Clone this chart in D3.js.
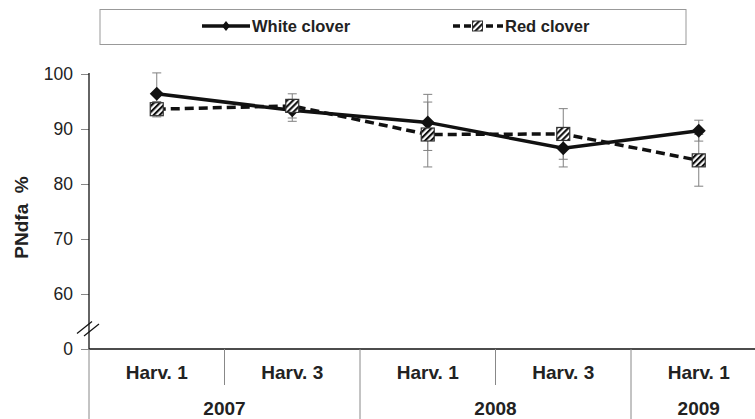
<!DOCTYPE html>
<html>
<head>
<meta charset="utf-8">
<script src="https://cdn.jsdelivr.net/npm/d3@7"></script>
<style>
  html, body { margin: 0; padding: 0; background: #fff; }
  svg { display: block; font-family: Arial, "Liberation Sans", Helvetica, sans-serif; }
</style>
</head>
<body>
<svg id="chart" width="755" height="419"></svg>
<script>
// ---- data ----
const harvests = ["Harv. 1", "Harv. 3", "Harv. 1", "Harv. 3", "Harv. 1"];
const years = ["2007", "2007", "2008", "2008", "2009"];
const whiteClover = [96.4, 93.4, 91.2, 86.5, 89.7];
const whiteErr = [3.8, 2.0, 5.1, 3.4, 1.9];
const redClover = [93.6, 94.2, 89.0, 89.1, 84.3];
const redErr = [1.4, 2.2, 5.9, 4.6, 4.7];
const yTickValues = [50, 60, 70, 80, 90, 100];
const yTickLabels = ["0", "60", "70", "80", "90", "100"];
const seriesNames = ["White clover", "Red clover"];

(function () {
// ---- layout ----
const svg = d3.select("#chart");
const mLeft = 89, mRight = 766.5, mTop = 74, mBottom = 349;

const x = d3.scaleBand().domain(d3.range(harvests.length)).range([mLeft, mRight]).padding(0);
const y = d3.scaleLinear().domain([50, 100]).range([mBottom, mTop]);
const cx = i => x(i) + x.bandwidth() / 2;

// hatch pattern
const defs = svg.append("defs");
const pat = defs.append("pattern")
  .attr("id", "hatch").attr("patternUnits", "userSpaceOnUse")
  .attr("width", 4.2).attr("height", 4.2)
  .attr("patternTransform", "rotate(45)");
pat.append("rect").attr("width", 4.2).attr("height", 4.2).attr("fill", "#fff");
pat.append("rect").attr("width", 2.1).attr("height", 4.2).attr("fill", "#111");

// y axis
const yAxis = d3.axisLeft(y).tickValues(yTickValues)
  .tickFormat((d, i) => yTickLabels[i]).tickSize(8).tickPadding(8);
const gy = svg.append("g").attr("transform", `translate(${mLeft},0)`).call(yAxis);
gy.select(".domain").remove();
gy.selectAll(".tick line").attr("stroke", "#888");
gy.selectAll(".tick text").attr("font-size", 17.5).attr("fill", "#222")
  .attr("font-family", "Arial, 'Liberation Sans', sans-serif");
svg.append("line").attr("x1", mLeft).attr("x2", mLeft).attr("y1", mTop - 1).attr("y2", mBottom)
  .attr("stroke", "#111").attr("stroke-width", 1.3);

// axis break marks
const bk = y(55);
[[-12, 0], [-5, 2.5]].forEach(([dx, dy]) => {
  svg.append("line")
    .attr("x1", mLeft + dx).attr("y1", bk + 12 + dy)
    .attr("x2", mLeft + dx + 15).attr("y2", bk + dy)
    .attr("stroke", "#111").attr("stroke-width", 1.2);
});

// y title
svg.append("text")
  .attr("transform", `translate(28,${(mTop + mBottom) / 2 + 6}) rotate(-90)`)
  .attr("text-anchor", "middle").attr("font-weight", "bold").attr("font-size", 19)
  .attr("fill", "#222").style("white-space", "pre")
  .text("PNdfa  %");

// x axis line
svg.append("line").attr("x1", mLeft).attr("x2", 755).attr("y1", mBottom).attr("y2", mBottom)
  .attr("stroke", "#111").attr("stroke-width", 1.5);

// category dividers
harvests.forEach((h, i) => {
  const newYear = i === 0 || years[i] !== years[i - 1];
  svg.append("line")
    .attr("x1", x(i)).attr("x2", x(i))
    .attr("y1", mBottom).attr("y2", newYear ? 419 : 385)
    .attr("stroke", "#888").attr("stroke-width", 1);
});

// harvest labels
svg.selectAll("text.harv").data(harvests).enter().append("text")
  .attr("class", "harv")
  .attr("x", (d, i) => cx(i)).attr("y", 379)
  .attr("text-anchor", "middle").attr("font-weight", "bold").attr("font-size", 19)
  .attr("fill", "#222").text(d => d);

// year labels
const yearGroups = d3.groups(d3.range(years.length), i => years[i]);
yearGroups.forEach(([yr, idx]) => {
  const x0 = x(idx[0]);
  const x1 = x(idx[idx.length - 1]) + x.bandwidth();
  svg.append("text")
    .attr("x", (x0 + x1) / 2).attr("y", 415)
    .attr("text-anchor", "middle").attr("font-weight", "bold").attr("font-size", 19)
    .attr("fill", "#222").text(yr);
});

// error bars
function errorBars(vals, errs) {
  const g = svg.append("g").attr("stroke", "#808080").attr("stroke-width", 1);
  vals.forEach((v, i) => {
    const xi = cx(i), yt = y(v + errs[i]), yb = y(v - errs[i]);
    g.append("line").attr("x1", xi).attr("x2", xi).attr("y1", yt).attr("y2", yb);
    g.append("line").attr("x1", xi - 4.5).attr("x2", xi + 4.5).attr("y1", yt).attr("y2", yt);
    g.append("line").attr("x1", xi - 4.5).attr("x2", xi + 4.5).attr("y1", yb).attr("y2", yb);
  });
}
errorBars(whiteClover, whiteErr);
errorBars(redClover, redErr);

// lines
const line = d3.line().x((d, i) => cx(i)).y(d => y(d));
svg.append("path").datum(whiteClover).attr("d", line)
  .attr("fill", "none").attr("stroke", "#111").attr("stroke-width", 3.5);
svg.append("path").datum(redClover).attr("d", line)
  .attr("fill", "none").attr("stroke", "#111").attr("stroke-width", 3.5)
  .attr("stroke-dasharray", "9,5");

// markers
function drawDiamond(g, px, py) {
  g.append("path").attr("d", "M0,-7L7,0L0,7L-7,0Z")
    .attr("transform", `translate(${px},${py})`).attr("fill", "#111");
}
function drawSquare(g, px, py) {
  g.append("rect").attr("x", px - 6.5).attr("y", py - 6.5).attr("width", 13).attr("height", 13)
    .attr("fill", "url(#hatch)").attr("stroke", "#333").attr("stroke-width", 1.2);
}
const gm = svg.append("g");
whiteClover.forEach((v, i) => drawDiamond(gm, cx(i), y(v)));
redClover.forEach((v, i) => drawSquare(gm, cx(i), y(v)));

// legend
const lg = svg.append("g");
lg.append("rect").attr("x", 100).attr("y", 9.5).attr("width", 586).attr("height", 35)
  .attr("fill", "#fff").attr("stroke", "#999").attr("stroke-width", 1);
lg.append("line").attr("x1", 202).attr("x2", 250).attr("y1", 26).attr("y2", 26)
  .attr("stroke", "#111").attr("stroke-width", 3.5);
lg.append("path").attr("d", "M0,-5L4,0L0,5L-4,0Z").attr("transform", "translate(226,26)").attr("fill", "#111");
lg.append("text").attr("x", 252).attr("y", 32).attr("font-weight", "bold").attr("font-size", 16.5)
  .attr("fill", "#222").text(seriesNames[0]);
lg.append("line").attr("x1", 453).attr("x2", 503).attr("y1", 26).attr("y2", 26)
  .attr("stroke", "#111").attr("stroke-width", 3.5).attr("stroke-dasharray", "7,4");
lg.append("rect").attr("x", 472.5).attr("y", 21).attr("width", 10).attr("height", 10)
  .attr("fill", "url(#hatch)").attr("stroke", "#333").attr("stroke-width", 1);
lg.append("text").attr("x", 505).attr("y", 32).attr("font-weight", "bold").attr("font-size", 16.5)
  .attr("fill", "#222").text(seriesNames[1]);
})();
</script>
</body>
</html>
